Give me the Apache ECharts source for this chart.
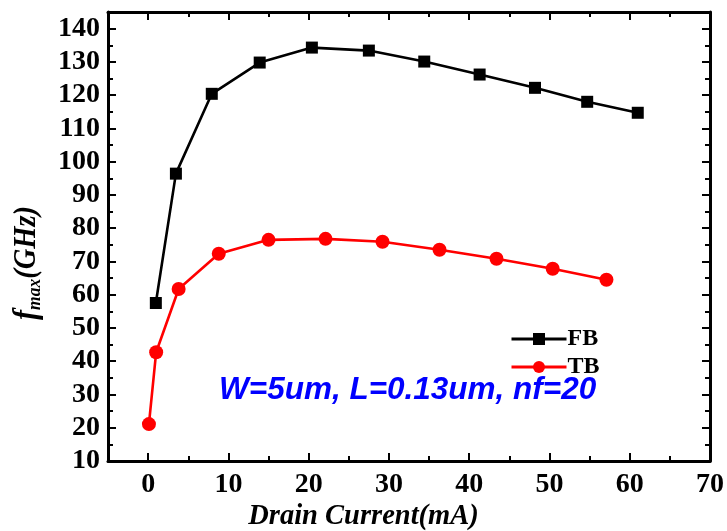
<!DOCTYPE html>
<html>
<head>
<meta charset="utf-8">
<script src="https://cdn.jsdelivr.net/npm/echarts@6/dist/echarts.min.js"></script>
<style>html,body{margin:0;padding:0;background:#fff;}#c{width:727px;height:531px;}</style>
</head>
<body>
<div id="c"></div>
<script>
// Data
const fbCurrent = [0.96, 3.46, 7.93, 13.9, 20.4, 27.5, 34.4, 41.3, 48.2, 54.7, 61.0];
const fbFmax    = [57.5, 96.4, 120.4, 129.8, 134.3, 133.4, 130.1, 126.2, 122.2, 118.0, 114.7];
const tbCurrent = [0.1, 1.0, 3.8, 8.8, 15.0, 22.1, 29.2, 36.3, 43.4, 50.4, 57.1];
const tbFmax    = [21.1, 42.7, 61.7, 72.3, 76.5, 76.8, 75.9, 73.5, 70.8, 67.8, 64.5];
const xMajorTicks = [0, 10, 20, 30, 40, 50, 60, 70];
const xMinorTicks = [-5, 5, 15, 25, 35, 45, 55, 65];
const yMajorTicks = [10, 20, 30, 40, 50, 60, 70, 80, 90, 100, 110, 120, 130, 140];
const yMinorTicks = [15, 25, 35, 45, 55, 65, 75, 85, 95, 105, 115, 125, 135, 145];
const seriesNames = ['FB', 'TB'];
const annotation = 'W=5um, L=0.13um, nf=20';
const xTitle = 'Drain Current(mA)';

const serif = '"Liberation Serif", "Times New Roman", serif';
const chart = echarts.init(document.getElementById('c'));

function zipPts(xs, ys) { return xs.map((x, i) => [x, ys[i]]); }

function makeX(pos, ticks, len, withLine, withLabel) {
  return {
    type: 'value', position: pos, min: -5, max: 70, gridIndex: 0,
    axisLine: { show: withLine, onZero: false, lineStyle: { color: '#000', width: 3 } },
    axisTick: { show: true, inside: true, length: len, customValues: ticks, lineStyle: { color: '#000', width: 2 } },
    axisLabel: withLabel ? { show: true, customValues: xMajorTicks, margin: 10, color: '#000',
      fontFamily: serif, fontWeight: 'bold', fontSize: 28 } : { show: false },
    splitLine: { show: false }, minorTick: { show: false }
  };
}
function makeY(pos, ticks, len, withLine, withLabel) {
  return {
    type: 'value', position: pos, min: 10, max: 145, gridIndex: 0,
    axisLine: { show: withLine, onZero: false, lineStyle: { color: '#000', width: 3 } },
    axisTick: { show: true, inside: true, length: len, customValues: ticks, lineStyle: { color: '#000', width: 2 } },
    axisLabel: withLabel ? { show: true, customValues: yMajorTicks, margin: 8, color: '#000',
      fontFamily: serif, fontWeight: 'bold', fontSize: 28 } : { show: false },
    splitLine: { show: false }, minorTick: { show: false }
  };
}

const option = {
  backgroundColor: '#fff',
  animation: false,
  grid: { left: 108, right: 15, top: 12, bottom: 70, containLabel: false },
  xAxis: [
    makeX('bottom', xMajorTicks, 8, true, true),
    makeX('bottom', xMinorTicks, 5, false, false),
    makeX('top', xMajorTicks, 8, true, false),
    makeX('top', xMinorTicks, 5, false, false)
  ],
  yAxis: [
    makeY('left', yMajorTicks, 8, true, true),
    makeY('left', yMinorTicks, 5, false, false),
    makeY('right', yMajorTicks, 8, true, false),
    makeY('right', yMinorTicks, 5, false, false)
  ],
  legend: {
    orient: 'vertical', left: 505, top: 322, itemWidth: 55, itemHeight: 15, itemGap: 4,
    data: seriesNames,
    lineStyle: { width: 3 },
    textStyle: { fontFamily: serif, fontWeight: 'bold', fontSize: 24, color: '#000', padding: [0, 0, 0, -4] }
  },
  series: [
    { name: seriesNames[0], type: 'line', xAxisIndex: 0, yAxisIndex: 0, data: zipPts(fbCurrent, fbFmax),
      symbol: 'rect', symbolSize: 12, itemStyle: { color: '#000' }, lineStyle: { color: '#000', width: 2.6 } },
    { name: seriesNames[1], type: 'line', xAxisIndex: 0, yAxisIndex: 0, data: zipPts(tbCurrent, tbFmax),
      symbol: 'circle', symbolSize: 14, itemStyle: { color: '#ff0000' }, lineStyle: { color: '#ff0000', width: 2.6 } }
  ],
  graphic: [
    { type: 'text', left: 219, top: 374,
      style: { text: annotation, fill: '#0000ff', font: 'italic bold 31.5px "Liberation Sans", Arial, sans-serif' } },
    { type: 'text', left: 'center', top: 502,
      style: { text: xTitle, fill: '#000', font: 'italic bold 28.5px "Liberation Serif", "Times New Roman", serif' } },
    { type: 'text', x: 28, y: 263, rotation: Math.PI / 2, scaleX: 0.92, scaleY: 1,
      style: {
        text: '{f|f}{m|max}{g|(GHz)}', align: 'center', verticalAlign: 'middle',
        rich: {
          f: { fontFamily: serif, fontStyle: 'italic', fontWeight: 'bold', fontSize: 33, fill: '#000', verticalAlign: 'top', lineHeight: 34 },
          m: { fontFamily: serif, fontStyle: 'italic', fontWeight: 'bold', fontSize: 19, fill: '#000', verticalAlign: 'top', padding: [15, 0, 0, 0] },
          g: { fontFamily: serif, fontStyle: 'italic', fontWeight: 'bold', fontSize: 31, fill: '#000', verticalAlign: 'top', lineHeight: 34 }
        }
      } }
  ]
};
chart.setOption(option);
</script>
</body>
</html>
